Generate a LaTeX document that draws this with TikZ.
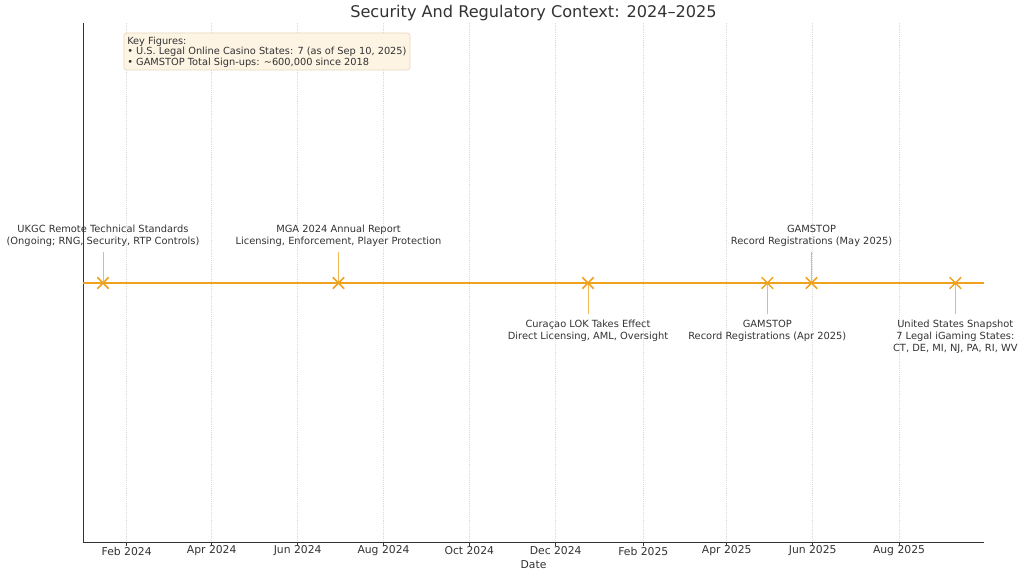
\documentclass[tikz,border=0pt]{standalone}
\usepackage{fontspec}
\setmainfont{DejaVu Sans}
\usetikzlibrary{shapes.misc}
\definecolor{tlorange}{HTML}{EFA21E}
\definecolor{txt}{HTML}{333333}
\definecolor{boxfill}{HTML}{FDF4E3}
\definecolor{boxdraw}{HTML}{E6D8BD}
\tikzset{
  gridline/.style={densely dotted, color=black!14, line width=0.4pt},
  spine/.style={color=txt, line width=0.6pt},
  tline/.style={color=tlorange, line width=1.5pt},
  stemline/.style={color=tlorange, line width=0.7pt, opacity=0.75},
  mk/.style={cross out, draw=tlorange, line width=1.1pt, minimum size=7.5pt, inner sep=0pt},
  evlabel/.style={align=center, text=txt, font=\fontsize{7.4}{9}\selectfont, inner sep=0pt},
  ticklabel/.style={text=txt, font=\fontsize{8.1}{9}\selectfont, inner sep=0pt},
}
\begin{document}
\begin{tikzpicture}[x=0.75pt,y=-0.75pt]
\useasboundingbox[fill=white] (0,0) rectangle (1024,577);
% grid
\foreach \gx in {126.7,211.7,297.7,383.5,469.3,555.7,643.3,726.7,812.7,899} {
  \draw[gridline] (\gx,23) -- (\gx,542);
  \draw[spine] (\gx,542) -- (\gx,545.5);
}
% spines
\coordinate (axtop) at (83,23);
\coordinate (axorig) at (83,542);
\coordinate (axright) at (984,542);
\draw[spine] (axtop) -- (axorig) -- (axright);
% tick labels
\node[ticklabel] (t1) at (126.7,551) {Feb 2024};
\node[ticklabel] (t2) at (211.7,551) {Apr 2024};
\node[ticklabel] (t3) at (297.7,551) {Jun 2024};
\node[ticklabel] (t4) at (383.5,551) {Aug 2024};
\node[ticklabel] (t5) at (469.3,551) {Oct 2024};
\node[ticklabel] (t6) at (555.7,551) {Dec 2024};
\node[ticklabel] (t7) at (643.3,551) {Feb 2025};
\node[ticklabel] (t8) at (726.7,551) {Apr 2025};
\node[ticklabel] (t9) at (812.7,551) {Jun 2025};
\node[ticklabel] (t10) at (899,551) {Aug 2025};
\node[ticklabel] (xlabel) at (533.5,564.5) {Date};
% title
\node[text=txt, font=\fontsize{12.1}{14}\selectfont, inner sep=0pt] (title) at (533.5,13) {Security And Regulatory Context: 2024–2025};
% timeline
\coordinate (tl0) at (83,283);
\coordinate (tl1) at (983.5,283);
\draw[tline] (tl0) -- (tl1);
% stems ends
\coordinate (s1) at (103,252);
\coordinate (s2) at (338.5,252);
\coordinate (s3) at (588,314);
\coordinate (s4) at (767.3,314);
\coordinate (s5) at (811.5,252);
\coordinate (s6) at (955.3,314);
\draw[stemline] (s1) -- (103,283);
\draw[stemline] (s2) -- (338.5,283);
\draw[stemline] (s3) -- (588,283);
\draw[stemline] (s4) -- (767.3,283);
\draw[stemline] (s5) -- (811.5,283);
\draw[stemline] (s6) -- (955.3,283);
% markers
\node[mk] (e1) at (103,283) {};
\node[mk] (e2) at (338.5,283) {};
\node[mk] (e3) at (588,283) {};
\node[mk] (e4) at (767.3,283) {};
\node[mk] (e5) at (811.5,283) {};
\node[mk] (e6) at (955.3,283) {};
% labels
\node[evlabel] (l1) at (103,236) {UKGC Remote Technical Standards\\(Ongoing; RNG, Security, RTP Controls)};
\node[evlabel] (l2) at (338.5,236) {MGA 2024 Annual Report\\Licensing, Enforcement, Player Protection};
\node[evlabel] (l3) at (588,331) {Curaçao LOK Takes Effect\\Direct Licensing, AML, Oversight};
\node[evlabel] (l4) at (767.3,331) {GAMSTOP\\Record Registrations (Apr 2025)};
\node[evlabel] (l5) at (811.5,236) {GAMSTOP\\Record Registrations (May 2025)};
\node[evlabel] (l6) at (955.3,336.5) {United States Snapshot\\7 Legal iGaming States:\\CT, DE, MI, NJ, PA, RI, WV};
% key figures box
\node[draw=boxdraw, fill=boxfill, rounded corners=2pt, line width=0.5pt, minimum width=286*0.75pt, minimum height=37*0.75pt, inner sep=0pt] (keybox) at (267,51.5) {};
\node[anchor=west, align=left, text=txt, font=\fontsize{7.35}{7.9}\selectfont, inner sep=0pt] (keytext) at (127,52) {Key Figures:\\• U.S. Legal Online Casino States: 7 (as of Sep 10, 2025)\\• GAMSTOP Total Sign-ups: \textasciitilde600,000 since 2018};
\end{tikzpicture}
\end{document}
